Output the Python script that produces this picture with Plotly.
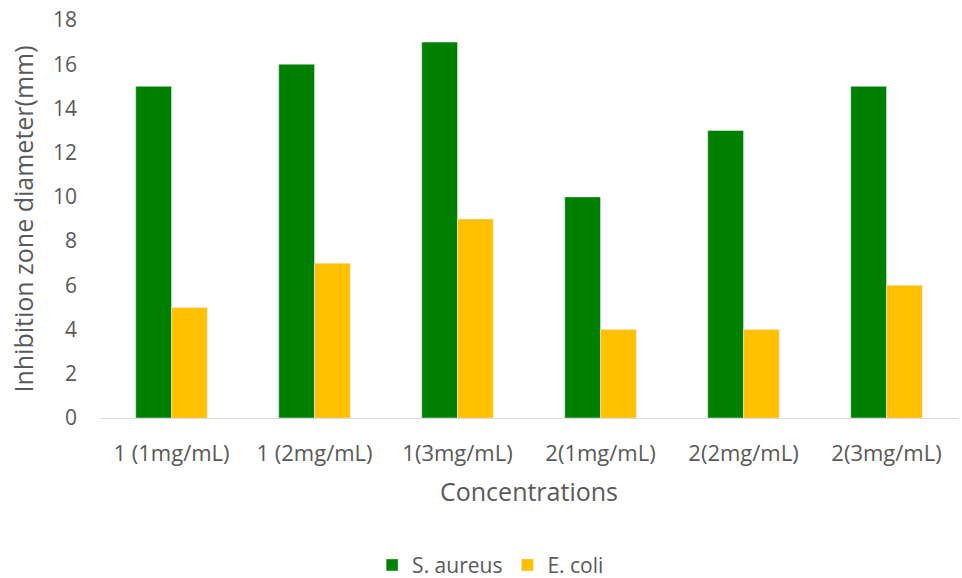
import plotly.graph_objects as go

categories = ["1 (1mg/mL)", "1 (2mg/mL)", "1(3mg/mL)", "2(1mg/mL)", "2(2mg/mL)", "2(3mg/mL)"]
s_aureus = [15, 16, 17, 10, 13, 15]
e_coli = [5, 7, 9, 4, 4, 6]
y_ticks = [0, 2, 4, 6, 8, 10, 12, 14, 16, 18]

font_family = "Open Sans, Noto Sans, sans-serif"
text_color = "#595959"

fig = go.Figure()
fig.add_trace(go.Bar(name="S. aureus", x=categories, y=s_aureus, marker_color="#008000"))
fig.add_trace(go.Bar(name="E. coli", x=categories, y=e_coli, marker_color="#FFC000"))

fig.update_layout(
    width=962, height=578,
    barmode="group", bargap=0.5, bargroupgap=0,
    plot_bgcolor="white", paper_bgcolor="white",
    margin=dict(l=100, r=4, t=20, b=160, autoexpand=False),
    font=dict(family=font_family, color=text_color, size=20),
    showlegend=True,
    legend=dict(orientation="h", x=0.51, xanchor="center", xref="container",
                y=0.022, yanchor="middle", yref="container",
                font=dict(size=21, color=text_color), traceorder="normal"),
)
fig.update_xaxes(
    showline=True, linecolor="#d9d9d9", linewidth=1, showgrid=False, ticks="",
    automargin=False, ticklabelstandoff=16,
    tickfont=dict(size=22, color=text_color),
    title=dict(text="Concentrations", font=dict(size=25, color=text_color), standoff=17),
)
fig.update_yaxes(
    range=[0, 18], tickvals=y_ticks, showgrid=False, zeroline=False, showline=False,
    automargin=False, ticklabelstandoff=22,
    tickfont=dict(size=21, color=text_color),
    title=dict(text="Inhibition zone diameter(mm)", font=dict(size=25, color=text_color), standoff=12),
)

fig.write_html("out.html")
